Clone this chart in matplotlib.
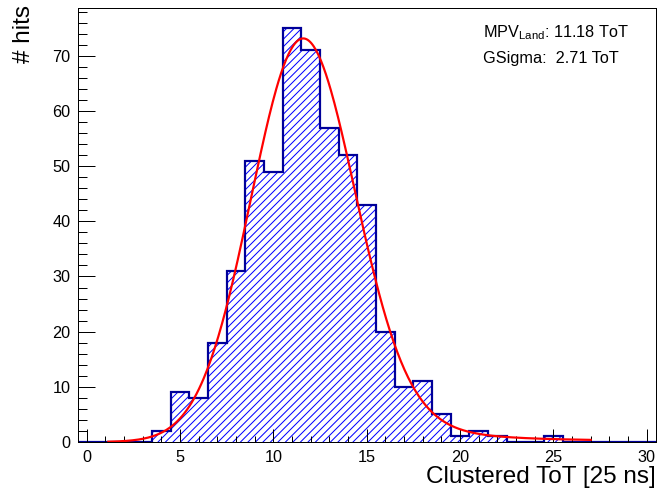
import numpy as np
import matplotlib
matplotlib.use('Agg')
import matplotlib.pyplot as plt
from matplotlib.ticker import MultipleLocator

DPI = 90
plt.rcParams['font.family'] = ['Liberation Sans', 'DejaVu Sans']
plt.rcParams['mathtext.fontset'] = 'custom'
plt.rcParams['mathtext.rm'] = 'Liberation Sans'


def pt(px):
    # pixel size -> points at the output dpi
    return px * 72.0 / DPI


plt.rcParams['hatch.linewidth'] = pt(1.0)

# histogram: bins of width 1 centred on 0..30
bin_edges = np.arange(-0.5, 31.0, 1.0)
counts = [0, 0, 0, 0, 2, 9, 8, 18, 31, 51, 49, 75, 71, 57, 52, 43,
          20, 10, 11, 5, 1, 2, 1, 0, 0, 1, 0, 0, 0, 0, 0]

# Landau (x) Gauss fit parameters
mpv = 11.18
gsigma = 2.71
lwidth = 0.15
area = 532.0
fit_range = (1.15, 27.0)

ymax = 78.75


def landau(lam):
    t = np.linspace(1e-7, 30, 6001)
    out = np.empty_like(lam)
    for i in range(0, len(lam), 200):
        l = lam[i:i+200, None]
        f = np.exp(-np.pi*t/2) * np.cos(t*l + t*np.log(t))
        out[i:i+200] = np.trapezoid(f, t, axis=1) / np.pi
    out[lam < -6] = 0.0
    return np.clip(out, 0, None)


def langaus(x):
    mpc = mpv + 0.22278298*lwidth
    y = np.arange(-10, 60, 0.005)
    ly = landau((y - mpc)/lwidth) / lwidth
    g = np.exp(-0.5*((x[:, None] - y[None, :])/gsigma)**2) / (gsigma*np.sqrt(2*np.pi))
    return area * (g * ly[None, :]).sum(axis=1) * 0.005


W, H = 659, 494
fig = plt.figure(figsize=(W/DPI, H/DPI), dpi=DPI)
ax = fig.add_axes([77.5/W, 1-442/H, (656-77.5)/W, (442-7.5)/H])

ax.stairs(counts, bin_edges, fill=True, facecolor='none', edgecolor='#0000ff',
          hatch='////', linewidth=0)
ax.stairs(counts, bin_edges, color='#000099', linewidth=pt(2.2))

xf = np.linspace(fit_range[0], fit_range[1], 400)
yf = langaus(xf)
ax.plot(xf, yf, color='#ff0000', linewidth=pt(2.2))

ax.set_xlim(bin_edges[0], bin_edges[-1])
ax.set_ylim(0, ymax)
ax.xaxis.set_major_locator(MultipleLocator(5))
ax.xaxis.set_minor_locator(MultipleLocator(1))
ax.yaxis.set_major_locator(MultipleLocator(10))
ax.yaxis.set_minor_locator(MultipleLocator(2))
ax.tick_params(axis='both', which='both', direction='in', top=False, right=False,
               labelsize=pt(16.3), width=pt(1.0))
ax.tick_params(axis='x', which='major', length=pt(12.7), pad=pt(8))
ax.tick_params(axis='x', which='minor', length=pt(6))
ax.tick_params(axis='y', which='major', length=pt(17), pad=pt(7))
ax.tick_params(axis='y', which='minor', length=pt(9))
for s in ax.spines.values():
    s.set_linewidth(pt(1.0))

fig.text(656/W, 1-483/H, 'Clustered ToT [25 ns]', ha='right', va='baseline',
         fontsize=pt(24.2))
fig.text(13/W, 1-5/H, '# hits', rotation=90, ha='left', va='top', fontsize=pt(24.2))

fig.text(483/W, 1-37/H, r'MPV$_{\mathregular{Land}}$: %.2f ToT' % mpv, ha='left',
         va='baseline', fontsize=pt(16.3))
fig.text(483/W, 1-63/H, 'GSigma:  %.2f ToT' % gsigma, ha='left', va='baseline',
         fontsize=pt(16.3))

fig.savefig('out.png', dpi=DPI)
